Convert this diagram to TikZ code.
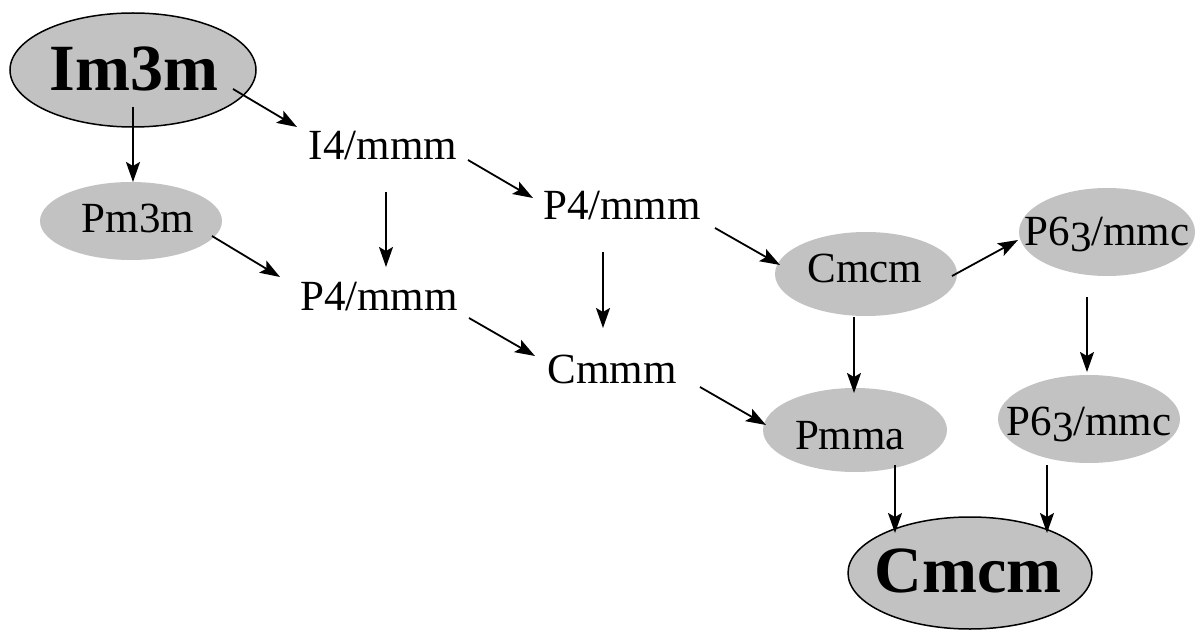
\documentclass[tikz,border=0pt]{standalone}
\usepackage{fontspec}
\setmainfont{Liberation Serif}
\usetikzlibrary{arrows.meta,shapes.geometric}
\newcommand{\sixthree}{P6\raisebox{-0.15em}{3}/mmc}
\begin{document}
\begin{tikzpicture}[x=0.5pt,y=-0.5pt,
  lbl/.style={anchor=base,inner sep=0pt,font=\fontsize{21.5pt}{24pt}\selectfont},
  biglbl/.style={anchor=base,inner sep=0pt,font=\fontsize{33pt}{36pt}\selectfont\bfseries},
  grayell/.style={ellipse,fill={rgb,255:red,194;green,194;blue,194},inner sep=0pt,outer sep=0pt},
  mainell/.style={grayell,draw=black,line width=0.75pt},
  conn/.style={-{Stealth[length=10pt,width=7pt,inset=2pt]},line width=0.9pt}]
\useasboundingbox (0,0) rectangle (1195,631);
% ellipses
\node[mainell,minimum width=123pt,minimum height=57pt] (im3m) at (133,70) {};
\node[grayell,minimum width=91pt,minimum height=39pt] (pm3m) at (131,221) {};
\node[grayell,minimum width=91pt,minimum height=42pt] (cmcm) at (866,274) {};
\node[grayell,minimum width=88pt,minimum height=44pt] (p63u) at (1107,232) {};
\node[grayell,minimum width=91pt,minimum height=44pt] (p63l) at (1089,419) {};
\node[grayell,minimum width=92pt,minimum height=42pt] (pmma) at (855,430) {};
\node[mainell,minimum width=122pt,minimum height=56pt] (cmcmb) at (970,573) {};
% texts
\node[biglbl] (im3mT) at (134,91) {Im3m};
\node[lbl] (pm3mT) at (138,233) {Pm3m};
\node[lbl] (i4) at (383,160) {I4/mmm};
\node[lbl] (p4l) at (379,310) {P4/mmm};
\node[lbl] (p4u) at (622,220) {P4/mmm};
\node[lbl] (cmmm) at (612,383) {Cmmm};
\node[lbl] (cmcmT) at (865,282) {Cmcm};
\node[lbl] (p63uT) at (1107,245) {\sixthree};
\node[lbl] (p63lT) at (1089,435) {\sixthree};
\node[lbl] (pmmaT) at (850,449) {Pmma};
\node[biglbl] (cmcmbT) at (968,592) {Cmcm};
% connectors
\draw[conn] ([shift={(0,37)}]im3m.center) -- ([shift={(2,-39)}]pm3m.center);
\draw[conn] ([shift={(100,19)}]im3m.center) -- ([shift={(-86,-33)}]i4.base);
\draw[conn] ([shift={(3,32)}]i4.base) -- ([shift={(7,-43)}]p4l.base);
\draw[conn] ([shift={(85,0)}]i4.base) -- ([shift={(-89,-22)}]p4u.base);
\draw[conn] ([shift={(81,15)}]pm3m.center) -- ([shift={(-99,-33)}]p4l.base);
\draw[conn] ([shift={(90,8)}]p4l.base) -- ([shift={(-77,-27)}]cmmm.base);
\draw[conn] ([shift={(-19,32)}]p4u.base) -- ([shift={(-9,-55)}]cmmm.base);
\draw[conn] ([shift={(93,8)}]p4u.base) -- ([shift={(-86,-9)}]cmcm.center);
\draw[conn] ([shift={(86,2)}]cmcm.center) -- ([shift={(-89,8)}]p63u.center);
\draw[conn] ([shift={(-12,43)}]cmcm.center) -- ([shift={(-1,-37)}]pmma.center);
\draw[conn] ([shift={(-20,65)}]p63u.center) -- ([shift={(-2,-47)}]p63l.center);
\draw[conn] ([shift={(88,4)}]cmmm.base) -- ([shift={(-89,-5)}]pmma.center);
\draw[conn] ([shift={(40,35)}]pmma.center) -- ([shift={(-75,-40)}]cmcmb.center);
\draw[conn] ([shift={(-42,46)}]p63l.center) -- ([shift={(77,-40)}]cmcmb.center);
\end{tikzpicture}
\end{document}
